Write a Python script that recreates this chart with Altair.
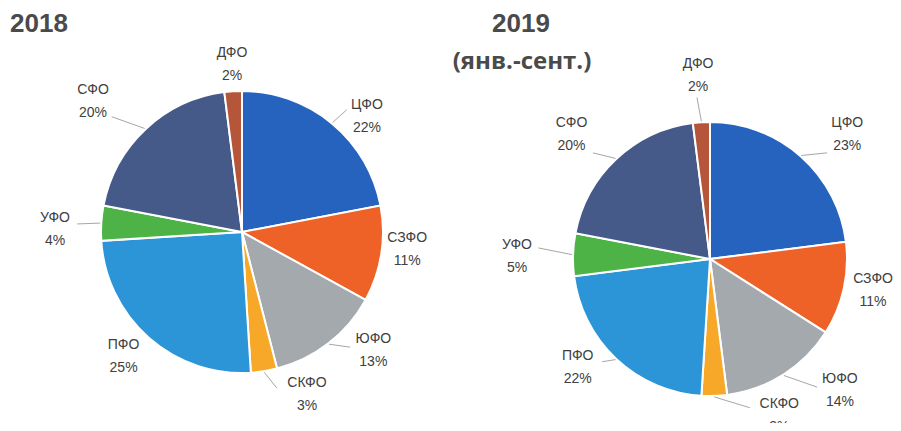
import altair as alt
import pandas as pd

# ---- data ----
regions = ["ЦФО", "СЗФО", "ЮФО", "СКФО", "ПФО", "УФО", "СФО", "ДФО"]
share_2018 = [22, 11, 13, 3, 25, 4, 20, 2]
share_2019 = [23, 11, 14, 3, 22, 5, 20, 2]
years = ["2018", "2019"]
shares = {"2018": share_2018, "2019": share_2019}
colors = ["#2563BE", "#EE6127", "#A4A9AE", "#F7A828", "#2C95D8", "#4DB346", "#465A8A", "#B5553A"]

# ---- layout / style ----
pie_center = {"2018": (234, 224), "2019": (702, 251)}
pie_radius = {"2018": 141, "2019": 137}
label_dangle = {"2018": [7.7, -3.1, -10.1, -12.8, 2.1, -2.8, -5.6, 0.2],
                "2019": [6.5, -1.8, -12.2, -22.1, 7.5, -1.2, -4.9, -0.1]}
label_radius = {"2018": [170, 166, 177, 175, 172, 187, 198, 168],
                "2019": [185, 166, 185, 171, 171, 193, 186, 184]}
lead_dangle = {"2018": [1, 0, -5.4, -3.6, 0, -0.8, -5.3, 0],
               "2019": [6.4, 0, -7.5, -13.2, 3.2, 1.9, -4.6, -1]}
lead_radius = {"2018": [161, 0, 158, 160, 0, 165, 174, 0],
               "2019": [158, 0, 167, 154, 149, 172, 158, 162]}
text_color = "#404040"
font = "Liberation Sans"

rows = []
for y in years:
    for i, reg in enumerate(regions):
        rows.append({
            "year": y, "region": reg, "value": shares[y][i], "ord": i,
            "cx": pie_center[y][0], "cy": pie_center[y][1], "r": pie_radius[y],
            "lab_d": label_dangle[y][i], "lab_r": label_radius[y][i],
            "lead_d": lead_dangle[y][i], "lead_r": lead_radius[y][i],
        })
df = pd.DataFrame(rows)

color = alt.Color("region:N", scale=alt.Scale(domain=regions, range=colors), legend=None)

arcs = []
for y in years:
    cx, cy = pie_center[y]
    arcs.append(
        alt.Chart(df).transform_filter(alt.datum.year == y)
        .mark_arc(x=cx, y=cy, outerRadius=pie_radius[y], stroke="white", strokeWidth=2)
        .encode(theta=alt.Theta("value:Q", stack=True), color=color, order=alt.Order("ord:Q"))
    )

base = (
    alt.Chart(df)
    .transform_window(cum="sum(value)", groupby=["year"], sort=[alt.SortField("ord")])
    .transform_joinaggregate(total="sum(value)", groupby=["year"])
    .transform_calculate(mid="(datum.cum - datum.value/2) / datum.total * 360")
    .transform_calculate(
        la="(datum.mid + datum.lab_d) * PI / 180",
        ma="datum.mid * PI / 180",
        ea="(datum.mid + datum.lead_d) * PI / 180",
        pct="datum.value + '%'",
    )
    .transform_calculate(
        lx="datum.cx + datum.lab_r * sin(datum.la)",
        ly="datum.cy - datum.lab_r * cos(datum.la)",
        sx="datum.cx + (datum.r + 1) * sin(datum.ma)",
        sy="datum.cy - (datum.r + 1) * cos(datum.ma)",
        ex="datum.cx + datum.lead_r * sin(datum.ea)",
        ey="datum.cy - datum.lead_r * cos(datum.ea)",
    )
)

names = base.mark_text(dy=-11.5, fontSize=14, font=font, color=text_color, align="center", baseline="middle").encode(
    x=alt.X("lx:Q", scale=None, axis=None), y=alt.Y("ly:Q", scale=None, axis=None), text="region:N")
pcts = base.mark_text(dy=11.5, fontSize=14, font=font, color=text_color, align="center", baseline="middle").encode(
    x=alt.X("lx:Q", scale=None, axis=None), y=alt.Y("ly:Q", scale=None, axis=None), text="pct:N")
leads = base.transform_filter("datum.lead_r > 0").mark_rule(color="#A6A6A6", strokeWidth=1).encode(
    x=alt.X("sx:Q", scale=None, axis=None), y=alt.Y("sy:Q", scale=None, axis=None),
    x2="ex:Q", y2="ey:Q")

titles_df = pd.DataFrame({"t": ["2018", "2019", "(янв.-сент.)"]})
t1 = alt.Chart(titles_df).transform_filter(alt.datum.t == "2018").mark_text(
    x=2, y=16, align="left", baseline="middle", fontSize=26, fontWeight="bold", font=font, color="#4a4a4a"
).encode(text="t:N")
t2 = alt.Chart(titles_df).transform_filter(alt.datum.t == "2019").mark_text(
    x=513, y=16, align="center", baseline="middle", fontSize=26, fontWeight="bold", font=font, color="#4a4a4a"
).encode(text="t:N")
t3 = alt.Chart(titles_df).transform_filter(alt.datum.t == "(янв.-сент.)").mark_text(
    x=514, y=54, align="center", baseline="middle", fontSize=24, fontWeight="bold", font="Open Sans", color="#4a4a4a"
).encode(text="t:N")

chart = alt.layer(*arcs, leads, names, pcts, t1, t2, t3).properties(
    width=885, height=415, autosize=alt.AutoSizeParams(type="none"), padding=0
).configure_view(stroke=None).resolve_scale(theta="independent")

chart.save("out.html", embed_options={"renderer": "svg", "actions": False})
